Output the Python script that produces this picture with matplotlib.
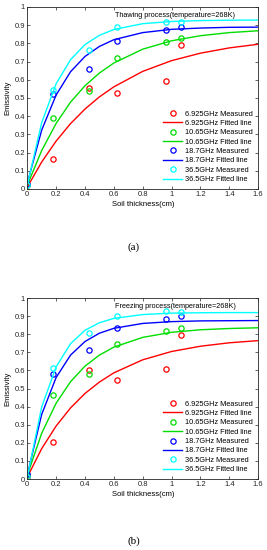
import matplotlib
matplotlib.use("Agg")
import matplotlib.pyplot as plt

plt.rcParams['font.family'] = ['Liberation Sans', 'DejaVu Sans']

# measured points (same thicknesses for both panels)
thick = [0.0, 0.18, 0.43, 0.625, 0.96, 1.067]
freqs = ['6.925GHz', '10.65GHz', '18.7GHz', '36.5GHz']
colors = ['red', '#00dd00', 'blue', 'cyan']

thaw_meas = [
    [0.02, 0.165, 0.552, 0.528, 0.592, 0.792],
    [0.02, 0.39, 0.537, 0.722, 0.805, 0.83],
    [0.03, 0.52, 0.658, 0.813, 0.874, 0.892],
    [0.02, 0.543, 0.764, 0.89, 0.918, 0.918],
]
freeze_meas = [
    [0.01, 0.204, 0.602, 0.545, 0.609, 0.796],
    [0.02, 0.466, 0.582, 0.746, 0.818, 0.836],
    [0.03, 0.578, 0.713, 0.832, 0.884, 0.9],
    [0.01, 0.612, 0.808, 0.9, 0.926, 0.924],
]

# fitted lines
fit_x = [0, 0.1, 0.2, 0.3, 0.4, 0.5, 0.6, 0.8, 1.0, 1.2, 1.4, 1.6]
thaw_fit = [
    [0.01, 0.148, 0.263, 0.359, 0.439, 0.506, 0.561, 0.646, 0.705, 0.746, 0.775, 0.795],
    [0.02, 0.211, 0.360, 0.477, 0.567, 0.637, 0.692, 0.768, 0.814, 0.842, 0.859, 0.869],
    [0.03, 0.323, 0.516, 0.644, 0.728, 0.783, 0.820, 0.859, 0.877, 0.884, 0.888, 0.889],
    [0.02, 0.364, 0.578, 0.710, 0.793, 0.844, 0.876, 0.908, 0.920, 0.925, 0.927, 0.928],
]
freeze_fit = [
    [0.01, 0.168, 0.293, 0.393, 0.473, 0.536, 0.587, 0.659, 0.705, 0.734, 0.753, 0.765],
    [0.02, 0.253, 0.419, 0.538, 0.624, 0.685, 0.729, 0.783, 0.811, 0.825, 0.832, 0.836],
    [0.02, 0.357, 0.561, 0.685, 0.760, 0.806, 0.833, 0.860, 0.870, 0.874, 0.875, 0.876],
    [0.01, 0.398, 0.620, 0.748, 0.822, 0.864, 0.888, 0.909, 0.917, 0.919, 0.920, 0.920],
]

xticks = [0, 0.2, 0.4, 0.6, 0.8, 1, 1.2, 1.4, 1.6]
xticklabels = ['0', '0.2', '0.4', '0.6', '0.8', '1', '1.2', '1.4', '1.6']
yticks = [0, 0.1, 0.2, 0.3, 0.4, 0.5, 0.6, 0.7, 0.8, 0.9, 1]
yticklabels = ['0', '0.1', '0.2', '0.3', '0.4', '0.5', '0.6', '0.7', '0.8', '0.9', '1']

fig = plt.figure(figsize=(2.67, 5.5), dpi=100)
ax1 = fig.add_axes([0.102, 0.6564, 0.865, 0.331])
ax2 = fig.add_axes([0.102, 0.129, 0.865, 0.329])


def panel(ax, meas, fit, title):
    for i in range(4):
        ax.plot(thick, meas[i], 'o', mfc='none', mec=colors[i], ms=3.8, mew=0.9,
                label=freqs[i] + ' Measured')
        ax.plot(fit_x, fit[i], '-', color=colors[i], lw=1.0,
                label=freqs[i] + ' Fitted line')
    ax.set_xlim(0, 1.6)
    ax.set_ylim(0, 1)
    ax.set_xticks(xticks)
    ax.set_xticklabels(xticklabels)
    ax.set_yticks(yticks)
    ax.set_yticklabels(yticklabels)
    ax.tick_params(direction='in', length=2, width=0.5, labelsize=5.5, pad=1.5,
                   top=True, right=True, colors='#262626')
    for s in ax.spines.values():
        s.set_linewidth(0.6)
        s.set_color('#262626')
    ax.set_xlabel('Soil thickness(cm)', fontsize=5.5, labelpad=2)
    ax.set_ylabel('Emissivity', fontsize=5.5, labelpad=2)
    ax.text(0.61, 0.955, title, fontsize=5.2, ha='left', va='center')
    ax.legend(loc='lower right', fontsize=5.3, frameon=False, handlelength=2.6,
              handletextpad=0.3, labelspacing=0.3, borderaxespad=0.4)


panel(ax1, thaw_meas, thaw_fit, 'Thawing process(temperature=268K)')
panel(ax2, freeze_meas, freeze_fit, 'Freezing process(temperature=268K)')

fig.text(0.5, 1 - 247 / 550, '(a)', ha='center', va='center', fontsize=8,
         family='Liberation Serif')
fig.text(0.5, 1 - 541 / 550, '(b)', ha='center', va='center', fontsize=8,
         family='Liberation Serif')

fig.savefig('out.png', dpi=100)
